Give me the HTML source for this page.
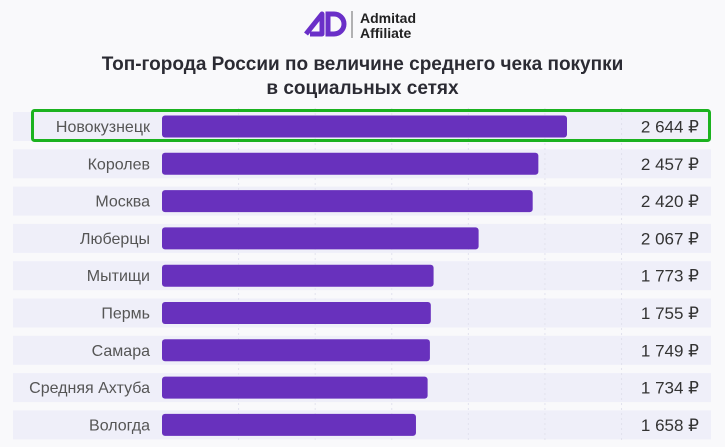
<!DOCTYPE html>
<html><head><meta charset="utf-8"><style>
body{margin:0;width:725px;height:447px;background:#f9f9fb;font-family:"Liberation Sans","DejaVu Sans",sans-serif;overflow:hidden;position:relative}
.t{position:absolute;left:0;width:725px;text-align:center;font-weight:bold;font-size:19px;color:#2b2b33;line-height:24px}
</style></head><body>
<div style="position:absolute;left:302px;top:8px;">
<svg width="170" height="32">
<path d="M4 26 L20 6 L20 26 L8 26" fill="none" stroke="#6a2fc8" stroke-width="5" stroke-linejoin="round"/>
<path d="M26 6 L32 6 A10 10 0 0 1 32 26 L26 26 Z" fill="none" stroke="#6a2fc8" stroke-width="5"/>
<line x1="50" y1="3" x2="50" y2="30" stroke="#999" stroke-width="1.5"/>
<text x="58" y="15" font-size="14" font-weight="bold" fill="#222" font-family="Liberation Sans">Admitad</text>
<text x="58" y="30" font-size="14" font-weight="bold" fill="#222" font-family="Liberation Sans">Affiliate</text>
</svg></div>
<div class="t" style="top:53px">Топ-города России по величине среднего чека покупки<br>в социальных сетях</div>
<svg id="c" width="725" height="447" style="position:absolute;left:0;top:0"></svg>
<script>
const cities=["Новокузнецк","Королев","Москва","Люберцы","Мытищи","Пермь","Самара","Средняя Ахтуба","Вологда"];
const values=[2644,2457,2420,2067,1773,1755,1749,1734,1658];
const labels=["2 644 ₽","2 457 ₽","2 420 ₽","2 067 ₽","1 773 ₽","1 755 ₽","1 749 ₽","1 734 ₽","1 658 ₽"];
const gridVals=[500,1000,1500,2000,2500,3000];
const NS="http://www.w3.org/2000/svg",svg=document.getElementById('c');
const x0=162,scale=405/2644;
const xs=v=>x0+v*scale;
const yc=i=>126.5+i*37.3;
function mk(t,a,p){const e=document.createElementNS(NS,t);for(const k in a)e.setAttribute(k,a[k]);(p||svg).appendChild(e);return e;}
cities.forEach((c,i)=>{
 const r=mk('rect',{x:13,y:yc(i)-14.5,width:698,height:29,fill:"#efeff9"});
 
 
});
gridVals.forEach(g=>{
 const l=mk('line',{x1:xs(g),x2:xs(g),y1:108,y2:440,stroke:"#e2e2ee","stroke-dasharray":"2,3","stroke-width":1});
 
 
});
cities.forEach((c,i)=>{
 const b=mk('rect',{x:x0,y:yc(i)-11,width:values[i]*scale,height:22,rx:3,fill:"#6831bd"});
 
 
 const t=mk('text',{x:150,y:yc(i)+5.5,"text-anchor":"end","font-size":16,fill:"#555"});
 t.textContent=c;
 
 
 const v=mk('text',{x:699,y:yc(i)+6,"text-anchor":"end","font-size":17,fill:"#333"});
 v.textContent=labels[i];
 
 
});
const h=mk('rect',{x:32.5,y:110.5,width:677,height:30,rx:2,fill:"none",stroke:"#1bb21f","stroke-width":3});


</script>
</body></html>
